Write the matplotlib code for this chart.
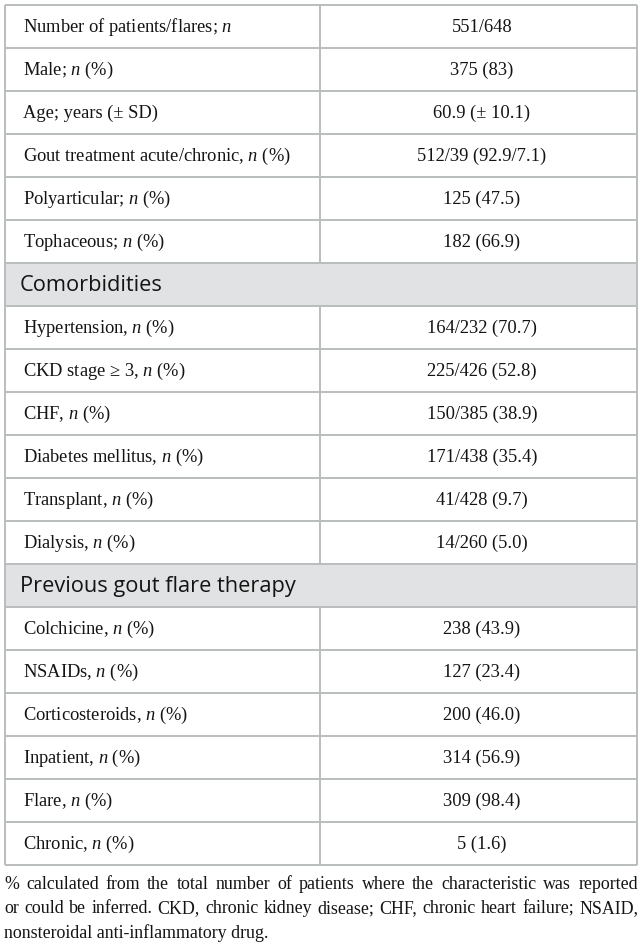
import matplotlib
matplotlib.use('Agg')
import matplotlib.pyplot as plt
from matplotlib.patches import Rectangle

plt.rcParams['mathtext.fontset'] = 'custom'
plt.rcParams['mathtext.rm'] = 'Liberation Serif'
plt.rcParams['mathtext.it'] = 'Liberation Serif:italic'

# table content
general_labels = ["Number of patients/flares; $n$", "Male; $n$ (%)", "Age; years (\u00b1 SD)",
                  "Gout treatment acute/chronic, $n$ (%)", "Polyarticular; $n$ (%)", "Tophaceous; $n$ (%)"]
general_values = ["551/648", "375 (83)", "60.9 (\u00b1 10.1)", "512/39 (92.9/7.1)", "125 (47.5)", "182 (66.9)"]

comorb_header = "Comorbidities"
comorb_labels = ["Hypertension, $n$ (%)", "CKD stage \u2265 3, $n$ (%)", "CHF, $n$ (%)",
                 "Diabetes mellitus, $n$ (%)", "Transplant, $n$ (%)", "Dialysis, $n$ (%)"]
comorb_values = ["164/232 (70.7)", "225/426 (52.8)", "150/385 (38.9)", "171/438 (35.4)",
                 "41/428 (9.7)", "14/260 (5.0)"]

therapy_header = "Previous gout flare therapy"
therapy_labels = ["Colchicine, $n$ (%)", "NSAIDs, $n$ (%)", "Corticosteroids, $n$ (%)",
                  "Inpatient, $n$ (%)", "Flare, $n$ (%)", "Chronic, $n$ (%)"]
therapy_values = ["238 (43.9)", "127 (23.4)", "200 (46.0)", "314 (56.9)", "309 (98.4)", "5 (1.6)"]

footnote_lines = [
    "% calculated from the total number of patients where the characteristic was reported",
    "or could be inferred. CKD, chronic kidney disease; CHF, chronic heart failure; NSAID,",
    "nonsteroidal anti-inflammatory drug.",
]

# layout (pixels)
W, H = 642, 947
left, right, mid = 4.5, 636.5, 319.5
top, row_h = 4.5, 43.0
line_col = '#b9bdbd'
head_fill = '#e1e2e3'
txt_col = '#141414'
serif = 'Liberation Serif'
fs = 13.3
fs_note = 12.9

fig = plt.figure(figsize=(W / 100, H / 100), dpi=100)
ax = fig.add_axes([0, 0, 1, 1])
ax.set_xlim(0, W)
ax.set_ylim(H, 0)
ax.axis('off')

rows = [('row', l, v) for l, v in zip(general_labels, general_values)]
rows.append(('head', comorb_header, None))
rows += [('row', l, v) for l, v in zip(comorb_labels, comorb_values)]
rows.append(('head', therapy_header, None))
rows += [('row', l, v) for l, v in zip(therapy_labels, therapy_values)]

for i, (kind, label, value) in enumerate(rows):
    y0 = top + i * row_h
    yc = y0 + row_h / 2
    if kind == 'head':
        ax.add_patch(Rectangle((left, y0), right - left, row_h, facecolor=head_fill,
                               edgecolor='none', zorder=0))
        ax.text(left + 15, yc + 1, label, fontsize=15.7, family='Open Sans', color=txt_col,
                va='center', ha='left')
    else:
        ax.vlines(mid, y0, y0 + row_h, color=line_col, lw=1.4)
        ax.text(left + 18.5, yc + 1, label, fontsize=fs, family=serif, color=txt_col,
                va='center', ha='left')
        ax.text((mid + right) / 2 + 4, yc + 1, value, fontsize=fs, family=serif, color=txt_col,
                va='center', ha='center')
    ax.hlines(y0, left, right, color=line_col, lw=1.4)

bottom = top + len(rows) * row_h
ax.hlines(bottom, left, right, color=line_col, lw=1.4)
ax.vlines([left, right], top, bottom, color=line_col, lw=1.4)

# justified footnote
fig.canvas.draw()
renderer = fig.canvas.get_renderer()


def text_width(s):
    t = ax.text(0, 0, s, fontsize=fs_note, family=serif)
    bb = t.get_window_extent(renderer)
    t.remove()
    return bb.width


fn_left, fn_right = 4.0, 638.0
fn_y = [884, 908.5, 933]
for j, line in enumerate(footnote_lines):
    if j == len(footnote_lines) - 1:
        ax.text(fn_left, fn_y[j], line, fontsize=fs_note, family=serif, color=txt_col,
                va='center', ha='left')
        continue
    words = line.split(' ')
    widths = [text_width(w) for w in words]
    gap = (fn_right - fn_left - sum(widths)) / (len(words) - 1)
    x = fn_left
    for w, wd in zip(words, widths):
        ax.text(x, fn_y[j], w, fontsize=fs_note, family=serif, color=txt_col,
                va='center', ha='left')
        x += wd + gap

fig.savefig('out.png', dpi=100)
